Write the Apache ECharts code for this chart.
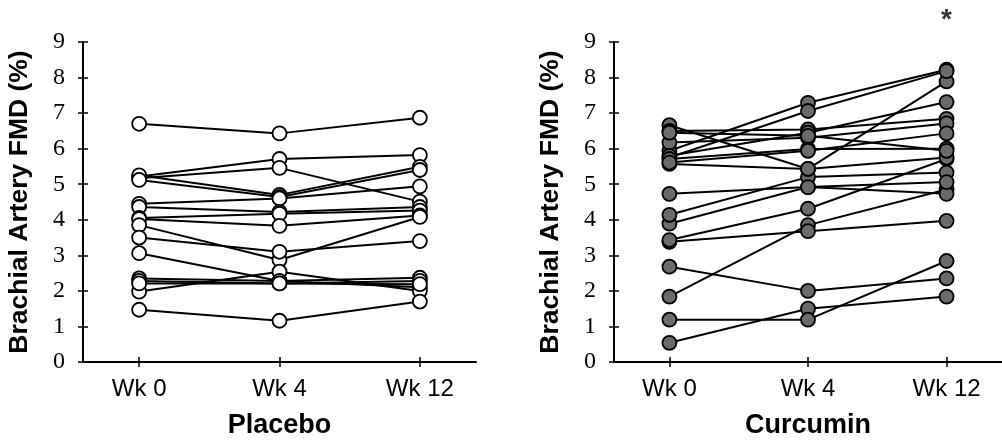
<!DOCTYPE html>
<html><head><meta charset="utf-8">
<script src="https://cdn.jsdelivr.net/npm/echarts@6/dist/echarts.min.js"></script>
<style>html,body{margin:0;padding:0;background:#fff}#c{width:1002px;height:444px}</style>
</head><body><div id="c"></div>
<script>
const weeks = ['Wk 0', 'Wk 4', 'Wk 12'];
const weekPos = [0, 1, 2];
const yTicks = [0, 1, 2, 3, 4, 5, 6, 7, 8, 9];
const groupNames = ['Placebo', 'Curcumin'];
const yTitle = 'Brachial Artery FMD (%)';
const sigMark = '*';
const sigPoint = [2, 9.6];

// each row: one subject, [Wk 0, Wk 4, Wk 12]
const placebo = [
  [6.70, 6.43, 6.87],
  [5.22, 5.71, 5.82],
  [5.17, 5.46, 4.51],
  [5.25, 4.70, 5.49],
  [5.12, 4.64, 5.40],
  [4.45, 4.60, 4.94],
  [4.36, 4.22, 4.36],
  [4.05, 4.17, 4.26],
  [4.02, 3.83, 4.12],
  [3.85, 2.87, 4.08],
  [3.50, 3.10, 3.40],
  [3.06, 2.28, 2.10],
  [1.98, 2.54, 2.00],
  [2.35, 2.28, 2.37],
  [2.28, 2.21, 2.28],
  [2.21, 2.21, 2.19],
  [1.47, 1.16, 1.70]
];
const curcumin = [
  [0.54, 1.50, 1.84],
  [1.19, 1.19, 2.84],
  [2.68, 2.00, 2.35],
  [1.84, 3.85, 4.85],
  [3.38, 3.68, 3.97],
  [3.43, 4.31, 5.71],
  [3.89, 4.92, 4.73],
  [4.14, 5.20, 5.33],
  [4.73, 4.92, 5.06],
  [6.66, 5.43, 7.89],
  [5.57, 5.43, 5.75],
  [5.94, 7.29, 8.22],
  [5.75, 7.06, 8.18],
  [6.50, 6.54, 6.84],
  [6.17, 6.31, 6.71],
  [5.80, 6.45, 7.31],
  [5.71, 5.99, 6.00],
  [5.61, 5.94, 6.43],
  [6.45, 6.36, 5.94]
];
const groups = [placebo, curcumin];
const fills = ['#ffffff', '#6b6b6b'];

const chart = echarts.init(document.getElementById('c'), null, {renderer: 'canvas'});
const grids = [
  {left: 83, top: 42, width: 393, height: 322},
  {left: 614, top: 42, width: 393, height: 322}
];
const xAxes = [], yAxes = [], series = [];
grids.forEach((g, gi) => {
  const lineStyle = {color: '#000', width: 2};
  xAxes.push({
    type: 'value', gridIndex: gi, position: 'bottom', min: -0.4, max: 2.4,
    axisLine: {show: true, onZero: false, lineStyle},
    axisTick: {show: true, customValues: weekPos, length: 5, lineStyle: {color: '#000', width: 1.5}},
    axisLabel: {customValues: weekPos, formatter: v => weeks[weekPos.indexOf(Math.round(v))] || '',
      fontFamily: 'Liberation Sans, Arial, sans-serif', fontSize: 24, color: '#000', margin: 15},
    splitLine: {show: false},
    name: groupNames[gi], nameLocation: 'middle', nameGap: 50,
    nameTextStyle: {fontFamily: 'Liberation Sans, Arial, sans-serif', fontWeight: 'bold', fontSize: 27, color: '#000'}
  });
  xAxes.push({
    type: 'value', gridIndex: gi, position: 'bottom', min: -0.4, max: 2.4,
    axisLine: {show: false, onZero: false},
    axisTick: {show: true, inside: true, customValues: weekPos, length: 5, lineStyle: {color: '#000', width: 1.5}},
    axisLabel: {show: false}, splitLine: {show: false}
  });
  yAxes.push({
    type: 'value', gridIndex: gi, position: 'left', min: 0, max: 9, interval: 1,
    axisLine: {show: true, onZero: false, lineStyle},
    axisTick: {show: true, length: 5, lineStyle: {color: '#000', width: 1.5}},
    axisLabel: {fontFamily: 'Liberation Serif, Times New Roman, serif', fontSize: 24, color: '#000', margin: 18,
      formatter: v => String(yTicks[yTicks.indexOf(v)])},
    splitLine: {show: false},
    name: yTitle, nameLocation: 'middle', nameGap: 50, nameRotate: 90,
    nameTextStyle: {fontFamily: 'Liberation Sans, Arial, sans-serif', fontWeight: 'bold', fontSize: 26.5, color: '#000'}
  });
  yAxes.push({
    type: 'value', gridIndex: gi, position: 'left', min: 0, max: 9, interval: 1,
    axisLine: {show: false, onZero: false},
    axisTick: {show: true, inside: true, length: 5, lineStyle: {color: '#000', width: 1.5}},
    axisLabel: {show: false}, splitLine: {show: false}
  });
  const rows = groups[gi];
  rows.forEach(row => {
    series.push({
      type: 'line', xAxisIndex: gi * 2, yAxisIndex: gi * 2,
      data: weekPos.map((x, i) => [x, row[i]]),
      showSymbol: false, symbol: 'none',
      lineStyle: {color: '#000', width: 2}, z: 2, silent: true
    });
  });
  const pts = [];
  rows.forEach(row => weekPos.forEach((x, i) => pts.push([x, row[i]])));
  series.push({
    type: 'scatter', xAxisIndex: gi * 2, yAxisIndex: gi * 2,
    data: pts, symbol: 'circle', symbolSize: 14,
    itemStyle: {color: fills[gi], borderColor: '#000', borderWidth: 1.8, opacity: 1},
    z: 5, silent: true
  });
});
series.push({
  type: 'scatter', xAxisIndex: 2, yAxisIndex: 2, clip: false,
  data: [sigPoint], symbolSize: 1, itemStyle: {color: 'transparent'},
  label: {show: true, position: 'inside', formatter: sigMark, fontFamily: 'Liberation Sans, Arial, sans-serif',
    fontSize: 28, fontWeight: 'bold', color: '#000'},
  silent: true, z: 6
});

chart.setOption({
  animation: false,
  backgroundColor: '#fff',
  grid: grids,
  xAxis: xAxes,
  yAxis: yAxes,
  series
});
</script></body></html>
